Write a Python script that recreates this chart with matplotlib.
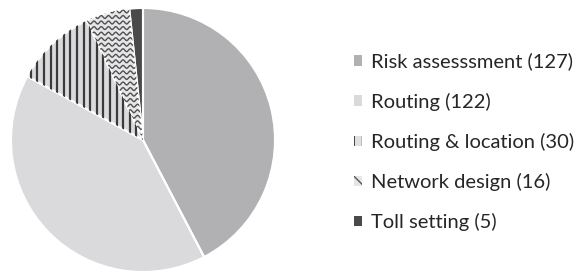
import matplotlib
matplotlib.use("Agg")
import matplotlib.pyplot as plt
from matplotlib.patches import Patch
import numpy as np

# dane
labels = ["Risk assesssment", "Routing", "Routing & location", "Network design", "Toll setting"]
counts = [127, 122, 30, 16, 5]
colors = ["#b1b1b4", "#dadadc", "#dadadc", "#e6e6e8", "#4a4a4a"]

plt.rcParams["font.family"] = ["Lato", "DejaVu Sans"]

fig = plt.figure(figsize=(5.79, 2.73), dpi=100)
ax = fig.add_axes([11 / 579, 1 / 273, 264 / 579, 264 / 273])

wedges, _ = ax.pie(counts, colors=colors, startangle=90, counterclock=False,
                   wedgeprops=dict(linewidth=0))

# paski pionowe - Routing & location
stripes = ax.vlines(np.arange(-1, 1, 0.05), -1, 1, colors="#3a3a3a", linewidth=1.6)
stripes.set_clip_path(wedges[2])

# fale - Network design
xw = np.linspace(-1, 1, 800)
for y0 in np.arange(-1, 1, 0.042):
    line, = ax.plot(xw, y0 + 0.011 * np.sin(2 * np.pi * xw / 0.055),
                    color="#505050", linewidth=1.0)
    line.set_clip_path(wedges[3])

# biale krawedzie na wierzchu
ax.pie(counts, colors=["none"] * 5, startangle=90, counterclock=False,
       wedgeprops=dict(edgecolor="white", linewidth=1.5))
ax.set_xlim(-1, 1)
ax.set_ylim(-1, 1)

# legenda
handles = [
    Patch(facecolor=colors[0], linewidth=0),
    Patch(facecolor=colors[1], linewidth=0),
    Patch(facecolor="#e0e0e0", edgecolor="#333333", hatch="||", linewidth=0),
    Patch(facecolor="#e6e6e8", edgecolor="#555555", hatch="\\\\\\", linewidth=0),
    Patch(facecolor=colors[4], linewidth=0),
]
texts = [f"{l} ({c})" for l, c in zip(labels, counts)]
fig.legend(handles, texts, loc="center left", bbox_to_anchor=(354 / 579, 131 / 273),
           frameon=False, fontsize=14.5, handlelength=0.42, handleheight=0.42,
           handletextpad=0.4, labelspacing=1.1, borderpad=0, borderaxespad=0,
           labelcolor="#262626")

fig.savefig("out.png", dpi=100)
